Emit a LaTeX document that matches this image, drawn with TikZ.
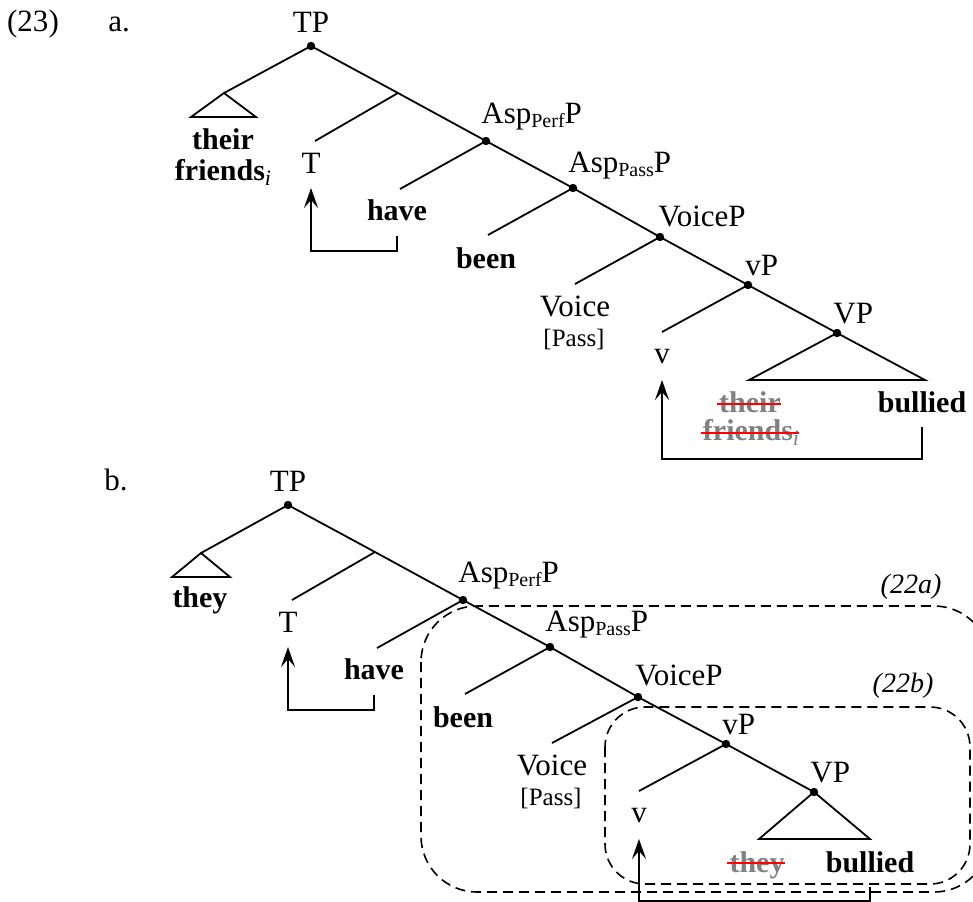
\documentclass[tikz,border=0pt]{standalone}
\usepackage{fontspec}
\setmainfont{Liberation Serif}
\usepackage{tikz}
\usetikzlibrary{positioning,calc,arrows.meta}
\newcommand{\lsub}[1]{\raisebox{-2pt}{\fontsize{10}{10}\selectfont #1}}
\newcommand{\coidx}{\raisebox{-2.5pt}{\fontsize{11}{11}\selectfont\normalfont\itshape i}}

\begin{document}
\begin{tikzpicture}[x=0.5pt, y=-0.5pt,
    tree/.style={line width=0.9pt},
    junct/.style={circle, fill, inner sep=0pt, minimum size=4.2pt},
    lbl/.style={inner sep=0pt, font=\fontsize{15.5}{18}\selectfont},
    wd/.style={inner sep=0pt, font=\fontsize{15}{18}\selectfont\bfseries},
    gone/.style={wd, text=gray},
    feat/.style={inner sep=0pt, font=\fontsize{12.5}{14}\selectfont},
    boxlbl/.style={inner sep=0pt, font=\fontsize{14}{16}\selectfont\itshape},
    strike/.style={red, line width=1.4pt},
    move/.style={line width=1.2pt, -{Stealth[length=10pt,width=7pt,inset=4pt]}},
    region/.style={line width=0.8pt, dash pattern=on 5pt off 3pt, rounded corners=28pt}]
      \useasboundingbox (0,0) rectangle (973,901);

      \node[lbl, anchor=base] (exnum) at (33,31) {(23)};
      \node[lbl, anchor=base west] (exa) at (108,31) {a.};

      \node[junct] (tpa) at (311,46) {};
      \coordinate (tbara) at (398,93);
      \node[junct] (perfa) at (486,141) {};
      \node[junct] (passa) at (573,188) {};
      \node[junct] (voicepa) at (660,237) {};
      \node[junct] (littlevpa) at (748,285) {};
      \node[junct] (vpa) at (837,333) {};
      \coordinate (subja) at (224,93);
      \coordinate (ta) at (315,141);
      \coordinate (havebra) at (400,189);
      \coordinate (beenbra) at (488,235);
      \coordinate (voicebra) at (575,284);
      \coordinate (vbra) at (662,332);

      \draw[tree] (tpa.center) -- (tbara) -- (perfa.center) -- (passa.center)
        -- (voicepa.center) -- (littlevpa.center) -- (vpa.center);
      \draw[tree] (tpa.center) -- (subja);
      \draw[tree] (subja) -- (191,117) -- (256,117) -- cycle;
      \draw[tree] (tbara) -- (ta);
      \draw[tree] (perfa.center) -- (havebra);
      \draw[tree] (passa.center) -- (beenbra);
      \draw[tree] (voicepa.center) -- (voicebra);
      \draw[tree] (littlevpa.center) -- (vbra);
      \draw[tree] (vpa.center) -- (749,380) -- (925,380) -- cycle;

      \node[lbl, anchor=base] (tpla) at (311,32) {TP};
      \node[lbl, anchor=base west] (perfla) at (481,123) {Asp\lsub{Perf}P};
      \node[lbl, anchor=base west] (passla) at (568,172) {Asp\lsub{Pass}P};
      \node[lbl, anchor=base west] (voicepla) at (658,226) {VoiceP};
      \node[lbl, anchor=base west] (littlevpla) at (745,275) {vP};
      \node[lbl, anchor=base west] (vpla) at (833,323) {VP};

      \node[wd, anchor=base] (theira) at (223,149) {their};
      \node[wd, anchor=base] (friendsa) at (223,180) {friends\coidx};
      \node[lbl, anchor=base] (Ta) at (311,173) {T};
      \node[wd, anchor=base] (havea) at (397,220) {have};
      \node[wd, anchor=base] (beena) at (486,268) {been};
      \node[lbl, anchor=base] (voicea) at (575,316) {Voice};
      \node[feat, anchor=base] (pssa) at (574,346) {[Pass]};
      \node[lbl, anchor=base] (va) at (662,363) {v};
      \node[gone, anchor=base] (theirga) at (750,412) {their};
      \node[gone, anchor=base] (friendsga) at (751,440) {friends\coidx};
      \node[wd, anchor=base] (bullieda) at (922,412) {bullied};

      \draw[strike] ($(theirga.base west)+(-2,-8)$) -- ($(theirga.base east)+(0,-8)$);
      \draw[strike] ($(friendsga.base west)+(-2,-7)$) -- ($(friendsga.base east)+(0,-7)$);

      \draw[move] ($(havea.base)+(0,16)$) -- ++(0,15) -| ($(Ta.base)+(0,15)$);
      \draw[move] ($(bullieda.base)+(0,15)$) -- ++(0,32) -| ($(va.base)+(0,17)$);

      \node[lbl, anchor=base west] (exb) at (104,490) {b.};

      \node[junct] (tpb) at (288,505) {};
      \coordinate (tbarb) at (375,552);
      \node[junct] (perfb) at (463,600) {};
      \node[junct] (passb) at (550,647) {};
      \node[junct] (voicepb) at (638,697) {};
      \node[junct] (littlevpb) at (726,744) {};
      \node[junct] (vpb) at (814,792) {};
      \coordinate (subjb) at (201,553);
      \coordinate (tb) at (292,600);
      \coordinate (havebrb) at (377,648);
      \coordinate (beenbrb) at (465,694);
      \coordinate (voicebrb) at (552,743);
      \coordinate (vbrb) at (639,791);

      \draw[tree] (tpb.center) -- (tbarb) -- (perfb.center) -- (passb.center)
        -- (voicepb.center) -- (littlevpb.center) -- (vpb.center);
      \draw[tree] (tpb.center) -- (subjb);
      \draw[tree] (subjb) -- (172,577) -- (230,577) -- cycle;
      \draw[tree] (tbarb) -- (tb);
      \draw[tree] (perfb.center) -- (havebrb);
      \draw[tree] (passb.center) -- (beenbrb);
      \draw[tree] (voicepb.center) -- (voicebrb);
      \draw[tree] (littlevpb.center) -- (vbrb);
      \draw[tree] (vpb.center) -- (759,839) -- (870,839) -- cycle;

      \node[lbl, anchor=base] (tplb) at (288,491) {TP};
      \node[lbl, anchor=base west] (perflb) at (458,582) {Asp\lsub{Perf}P};
      \node[lbl, anchor=base west] (passlb) at (545,631) {Asp\lsub{Pass}P};
      \node[lbl, anchor=base west] (voiceplb) at (635,685) {VoiceP};
      \node[lbl, anchor=base west] (littlevplb) at (722,734) {vP};
      \node[lbl, anchor=base west] (vplb) at (810,782) {VP};

      \node[wd, anchor=base] (theyb) at (200,607) {they};
      \node[lbl, anchor=base] (Tb) at (288,632) {T};
      \node[wd, anchor=base] (haveb) at (374,679) {have};
      \node[wd, anchor=base] (beenb) at (463,727) {been};
      \node[lbl, anchor=base] (voiceb) at (552,775) {Voice};
      \node[feat, anchor=base] (pssb) at (551,805) {[Pass]};
      \node[lbl, anchor=base] (vb) at (639,822) {v};
      \node[gone, anchor=base] (theygb) at (757,872) {they};
      \node[wd, anchor=base] (bulliedb) at (870,872) {bullied};

      \draw[strike] ($(theygb.base west)+(-2,-9)$) -- ($(theygb.base east)+(0,-9)$);

      \draw[move] ($(haveb.base)+(0,16)$) -- ++(0,15) -| ($(Tb.base)+(0,15)$);
      \draw[move] ($(bulliedb.base)+(0,15)$) -- ++(0,14) -| ($(vb.base)+(0,17)$);

      \draw[region] (421,606) rectangle (990,892);
      \draw[region, rounded corners=20pt] (605,707) rectangle (970,884);
      \node[boxlbl, anchor=base] (rega) at (911,593) {(22a)};
      \node[boxlbl, anchor=base] (regb) at (903,692) {(22b)};
    \end{tikzpicture}
\end{document}
